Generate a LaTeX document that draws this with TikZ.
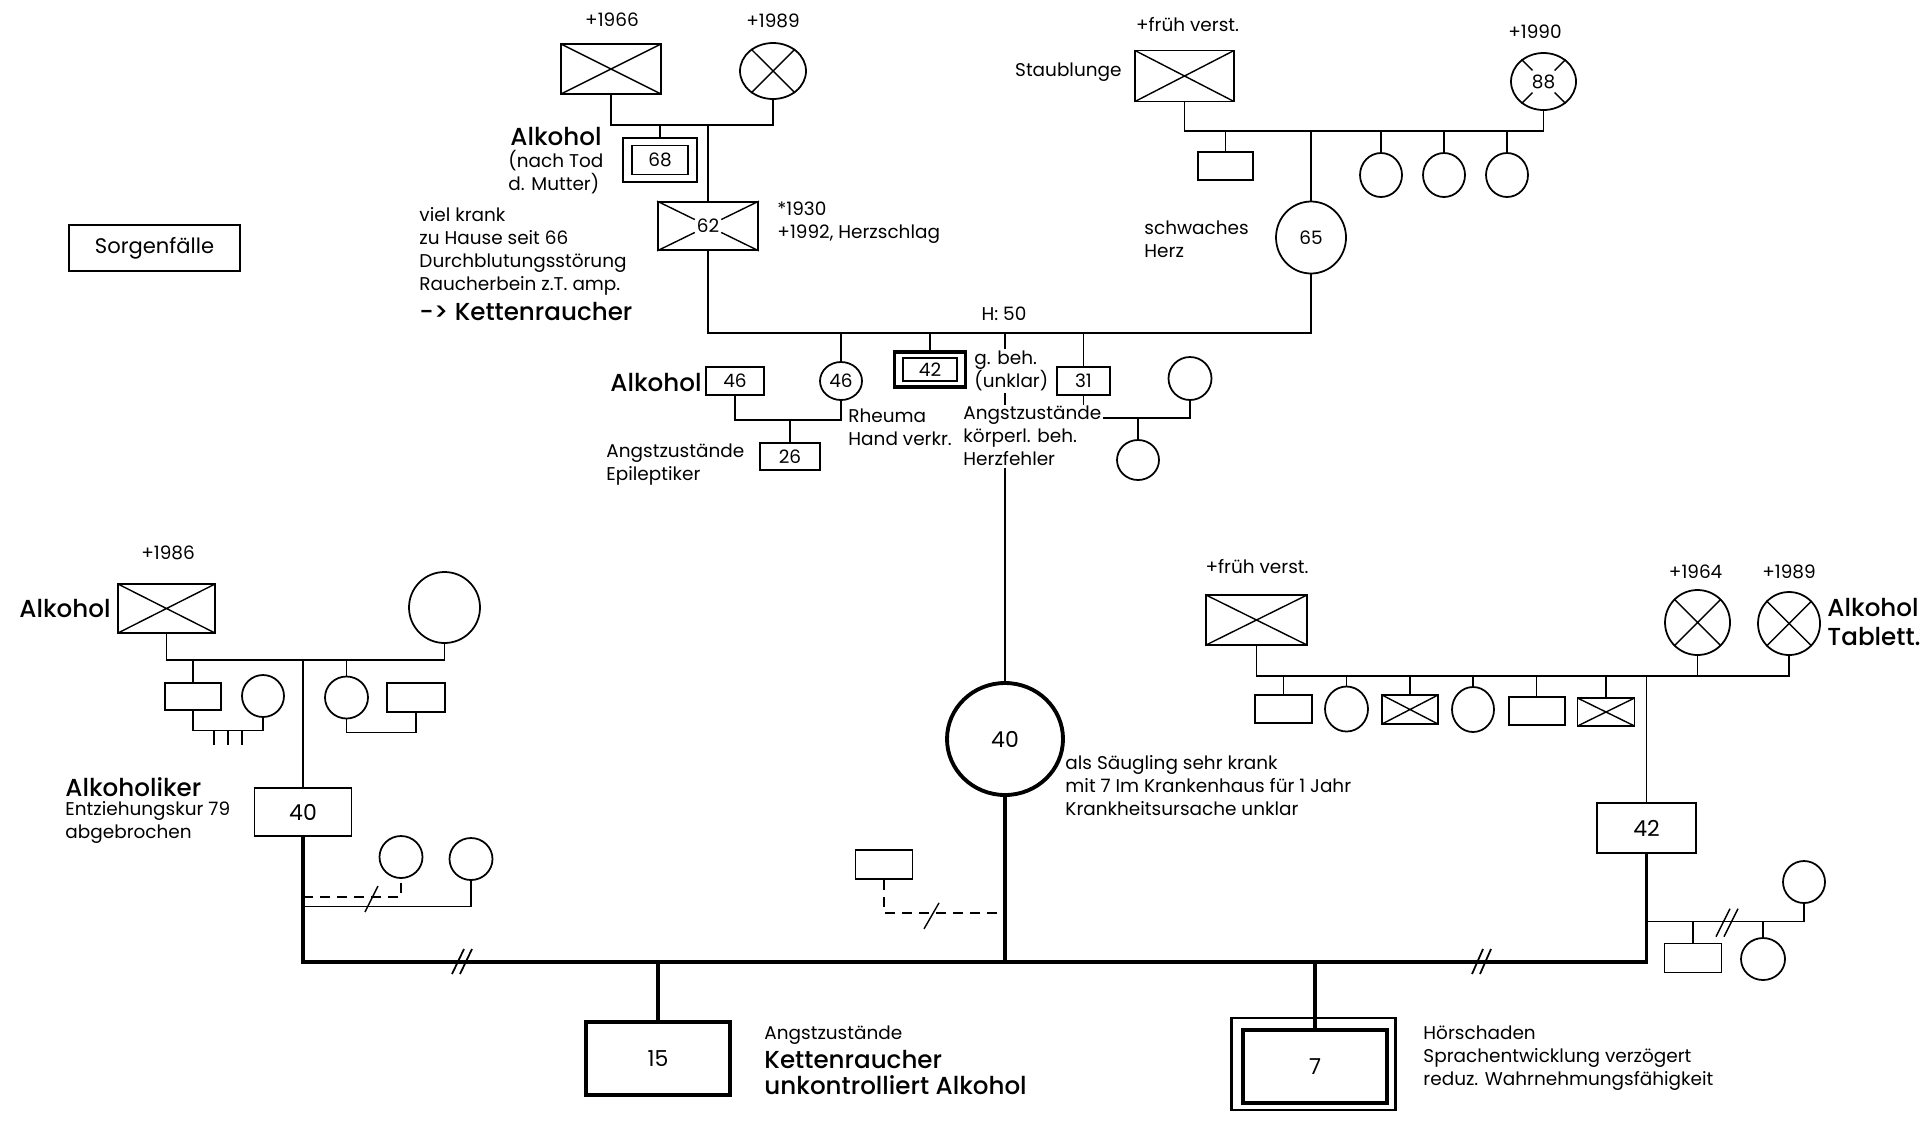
\documentclass[tikz,border=0pt]{standalone}
\usepackage{fontspec}
\setmainfont{Poppins}[BoldFont={Poppins Medium}]
\usetikzlibrary{shapes,shapes.geometric}
\usetikzlibrary{positioning,calc}

\newcommand{\txt}{\fontsize{10.5}{13}\selectfont}
\newcommand{\btxt}{\fontsize{14}{16.5}\selectfont\bfseries}
\newcommand{\bigno}{\fontsize{12.5}{14}\selectfont}

\begin{document}
\begin{tikzpicture}[x=0.02cm,y=-0.02cm,line width=0.8pt,
  every node/.style={font=\txt,inner sep=1pt},
  man/.style n args={2}{draw,rectangle,line width=1pt,minimum width=#1*0.02cm,minimum height=#2*0.02cm},
  woman/.style n args={2}{draw,ellipse,line width=1pt,minimum width=#1*0.02cm,minimum height=#2*0.02cm},
  deadbox/.style={path picture={\draw[line width=0.8pt] (path picture bounding box.north west) -- (path picture bounding box.south east) (path picture bounding box.north east) -- (path picture bounding box.south west);}},
  note/.style={anchor=west,align=left},
  blank/.style={fill=white},
  heavy/.style={line width=2.2pt},
  brk/.style={dash pattern=on 0.2cm off 0.14cm}]
\fill[white] (0,0) rectangle (1932,1123);
\useasboundingbox (0,0) rectangle (1932,1123);

\node[draw,line width=1.4pt,minimum width=3.42cm,minimum height=0.92cm,font=\fontsize{12}{14}\selectfont] (sorg) at (154.5,248) {Sorgenfälle};

% Grosseltern vaeterlicherseits
\node[man={100}{50},deadbox] (gfa) at (611,69) {};
\node (gfat) at (612,20) {+1966};
\node[woman={66}{56}] (gma) at (773,71) {};
\draw (gma.45) -- (gma.225) (gma.135) -- (gma.315);
\node (gmat) at (773,21) {+1989};
\coordinate (mla) at (700,125);
\draw (gfa.south) |- (mla) -| (gma.south);

\node[draw,line width=1.6pt,minimum width=1.48cm,minimum height=0.88cm] (u68) at (660,160) {};
\node[man={56}{29}] (uncle) at (660,160) {68};
\draw (u68.north) -- (u68.north |- mla);
\node[font=\btxt] (alk1) at (556,137) {Alkohol};
\node[note] (alk1n) at (506,172) {(nach Tod\\d. Mutter)};

\node[man={100}{48}] (fa) at (708,226) {62};
\draw (fa.north west) -- ($(fa.north west)!0.37!(fa.south east)$)
      (fa.south east) -- ($(fa.south east)!0.37!(fa.north west)$)
      (fa.north east) -- ($(fa.north east)!0.37!(fa.south west)$)
      (fa.south west) -- ($(fa.south west)!0.37!(fa.north east)$);
\draw (fa.north) -- (fa.north |- mla);
\node[note] (fan) at (417,251.5) {viel krank\\zu Hause seit 66\\Durchblutungsstörung\\Raucherbein z.T. amp.};
\node[note,font=\btxt] (fak) at (417,312) {-> Kettenraucher};
\node[note] (fad) at (775,222.5) {*1930\\+1992, Herzschlag};

% Grosseltern muetterlicherseits
\node[man={99}{51},deadbox] (gfb) at (1184.5,76) {};
\node (gfbt) at (1187.5,25) {+früh verst.};
\node[anchor=east] (gfbn) at (1124,72) {Staublunge};
\node[woman={65}{57}] (gmb) at (1543.5,81.5) {88};
\draw (gmb.45) -- ($(gmb.center)!0.5!(gmb.45)$) (gmb.135) -- ($(gmb.center)!0.5!(gmb.135)$)
      (gmb.225) -- ($(gmb.center)!0.5!(gmb.225)$) (gmb.315) -- ($(gmb.center)!0.5!(gmb.315)$);
\node (gmbt) at (1535,32) {+1990};
\coordinate (mlb) at (1300,131);
\draw (gfb.south) |- (mlb) -| (gmb.south);
\node[man={55}{28}] (ub) at (1225.5,166) {};
\draw (ub.north) -- (ub.north |- mlb);
\node[woman={70}{72}] (mo) at (1311,237.5) {65};
\draw (mo.north) -- (mo.north |- mlb);
\foreach \x/\n in {1381/ta,1444/tb,1507/tc} {
  \node[woman={42}{44}] (\n) at (\x,175) {};
  \draw (\n.north) -- (\n.north |- mlb);
}
\node[note] (mon) at (1142,239) {schwaches\\Herz};

% Geschwister
\coordinate (sib) at (1000,333);
\draw (fa.south) |- (sib) -| (mo.south);
\node (sibt) at (1004,314) {H: 50};

\node[man={58}{28}] (ha) at (735,381) {46};
\node[font=\btxt,anchor=east] (han) at (704,382) {Alkohol};
\node[woman={42}{38}] (sa) at (841,381) {46};
\draw (sa.north) -- (sa.north |- sib);
\coordinate (mlc1) at (790,420);
\draw (ha.south) |- (mlc1) -| (sa.south);
\node[man={60}{27}] (na) at (790,456.5) {26};
\draw (na.north) -- (na.north |- mlc1);
\node[note] (nan) at (604,464.5) {Angstzustände\\Epileptiker};
\node[note] (san) at (846,427) {Rheuma\\Hand verkr.};

\node[draw,line width=1.8pt,minimum width=1.42cm,minimum height=0.7cm] (ob) at (930,369.5) {};
\node[man={54}{23}] (bro) at (930,369.5) {42};
\draw (ob.north) -- (ob.north |- sib);

\node[man={53}{28}] (sb) at (1083.5,381) {31};
\draw (sb.north) -- (sb.north |- sib);
\node[woman={43}{43}] (hb) at (1190,378.5) {};
\coordinate (mlc2) at (1138,418);
\draw (sb.south) |- (mlc2) -| (hb.south);
\node[woman={42}{40}] (nb) at (1138,460) {};
\draw (nb.north) -- (nb.north |- mlc2);

% Indexperson
\node[woman={116}{112},line width=2.2pt,font=\bigno] (idx) at (1005,739) {40};
\draw (idx.north) -- (idx.north |- sib);
\node[note,blank] (bron) at (972,371) {g. beh.\\(unklar)};
\node[note,blank] (idxa) at (961,436) {Angstzustände\\körperl. beh.\\Herzfehler};
\node[note] (idxn) at (1063,785.5) {als Säugling sehr krank\\mit 7 Im Krankenhaus für 1 Jahr\\Krankheitsursache unklar};

% Familie des Mannes
\node[man={97}{49},deadbox] (gfc) at (166.5,608.5) {};
\node (gfct) at (168,553) {+1986};
\node[font=\btxt,anchor=east] (gfcn) at (113,608) {Alkohol};
\node[woman={71}{71}] (gmc) at (444.5,607.5) {};
\coordinate (mld) at (300,660);
\draw (gfc.south) |- (mld) -| (gmc.south);
\node[man={56}{27}] (ua) at (193,696.5) {};
\node[woman={42}{42}] (ta2) at (263,696) {};
\draw (ua.north) -- (ua.north |- mld);
\coordinate (mle) at (228,730.7);
\draw (ua.south) |- (mle) -| (ta2.south);
\foreach \d in {-14,0,14} \draw ($(mle)+(\d,0)$) -- ++(0,14);
\node[woman={43}{42}] (tc2) at (346.5,697.5) {};
\node[man={58}{29}] (uc) at (416,697.5) {};
\draw (tc2.north) -- (tc2.north |- mld);
\coordinate (mlf) at (380,732.7);
\draw (tc2.south) |- (mlf) -| (uc.south);
\node[man={97}{48},font=\bigno] (fb) at (303,812) {40};
\draw (fb.north) -- (fb.north |- mld);
\node[note,font=\btxt] (fbn) at (63,787) {Alkoholiker};
\node[note] (fbm) at (63,822.5) {Entziehungskur 79\\abgebrochen};

\node[woman={43}{42}] (pa) at (401,857) {};
\node[woman={43}{42}] (pb) at (471,859) {};
\coordinate (mlg) at (350,897);
\coordinate (mlh) at (350,906.7);
\draw[brk] (fb.south |- mlg) -| (pa.south);
\draw (fb.south |- mlh) -| (pb.south);
\draw ($(mlh)+(15,5.3)$) -- ++(13,-26);

% Familie der Frau
\node[man={101}{50},deadbox] (gfd) at (1256.5,620) {};
\node (gfdt) at (1257,567) {+früh verst.};
\node[woman={65}{65}] (gmd) at (1697.5,622.5) {};
\node[woman={62}{63}] (gme) at (1789,623.5) {};
\draw (gmd.45) -- (gmd.225) (gmd.135) -- (gmd.315);
\draw (gme.45) -- (gme.225) (gme.135) -- (gme.315);
\node (gmdt) at (1695.6,572) {+1964};
\node (gmet) at (1789,572) {+1989};
\node[note,font=\btxt] (gmen) at (1825,622) {Alkohol\\Tablett.};
\coordinate (mlj) at (1500,676);
\draw (gfd.south) |- (mlj) -| (gme.south);
\draw (gmd.south) -- (gmd.south |- mlj);
\node[man={57}{28}] (sd1) at (1283.5,709) {};
\node[woman={43}{45}] (sd2) at (1346.5,709) {};
\node[man={56}{29},deadbox] (sd3) at (1410,709.5) {};
\node[woman={42}{45}] (sd4) at (1473,709.5) {};
\node[man={56}{28}] (sd5) at (1536.6,711) {};
\node[man={57}{28},deadbox] (sd6) at (1606,712) {};
\foreach \n in {sd1,sd2,sd3,sd4,sd5,sd6} \draw (\n.north) -- (\n.north |- mlj);
\node[man={99}{50},font=\bigno] (rb) at (1646.5,828) {42};
\draw (rb.north) -- (rb.north |- mlj);

\node[woman={42}{42}] (pc) at (1804,882) {};
\coordinate (mlk) at (1720,921.7);
\draw (rb.south |- mlk) -| (pc.south);
\node[man={57}{29}] (ed1) at (1693,958) {};
\node[woman={44}{42}] (ed2) at (1763,959) {};
\draw (ed1.north) -- (ed1.north |- mlk) (ed2.north) -- (ed2.north |- mlk);
\foreach \d in {0,8} \draw ($(mlk)+(-4+\d,15)$) -- ++(14,-28);

% Kernfamilie
\coordinate (main) at (1000,962);
\draw[heavy] (fb.south) |- (main) -| (rb.south);
\draw[heavy] (idx.south) -- (idx.south |- main);
\foreach \d in {0,8} \draw[line width=1pt] ($(main)+(-548+\d,12)$) -- ++(12,-25);
\foreach \d in {0,8} \draw[line width=1pt] ($(main)+(472+\d,12)$) -- ++(11,-25);

\node[man={57}{29}] (exb) at (884,864.5) {};
\draw[brk] (exb.south) |- (idx.south |- 0,913);
\draw ($(exb.south)+(40,49)$) -- ++(15,-26);

\node[man={144}{73},line width=2.2pt,font=\bigno] (ka) at (658,1058.5) {15};
\draw[line width=1.8pt] (ka.north) -- (ka.north |- main);
\node[note] (kan) at (762,1035) {Angstzustände};
\node[note,font=\fontsize{14}{14.5}\selectfont\bfseries] (kam) at (762,1072.5) {Kettenraucher\\unkontrolliert Alkohol};

\node[draw,line width=1.4pt,minimum width=3.28cm,minimum height=1.84cm] (okb) at (1313.5,1064) {};
\node[man={144}{73},line width=2.2pt,font=\bigno] (kb) at (1315,1066.5) {7};
\draw[line width=1.8pt] (kb.north) -- (kb.north |- main);
\node[note] (kbn) at (1421,1058) {Hörschaden\\Sprachentwicklung verzögert\\reduz. Wahrnehmungsfähigkeit};
\end{tikzpicture}
\end{document}
